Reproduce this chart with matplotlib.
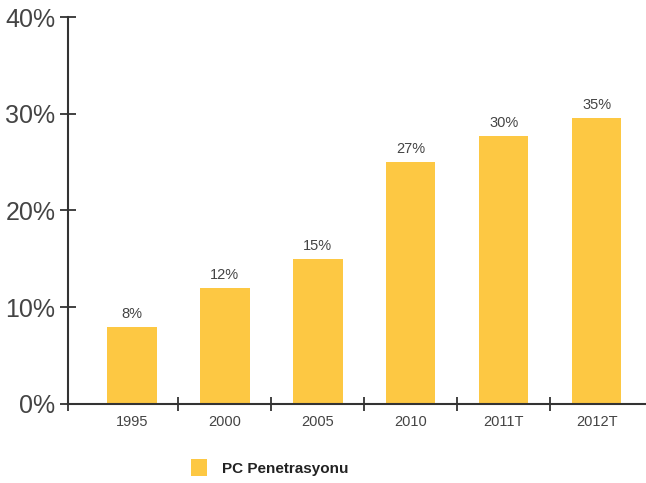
import matplotlib
matplotlib.use("Agg")
import matplotlib.pyplot as plt
from matplotlib.patches import Patch
import numpy as np

plt.rcParams["font.family"] = ["Liberation Sans", "DejaVu Sans"]

years = ["1995", "2000", "2005", "2010", "2011T", "2012T"]
heights = [8, 12, 15, 25, 27.7, 29.6]
labels = ["8%", "12%", "15%", "27%", "30%", "35%"]

bar_color = "#FDC843"
axis_color = "#333333"
text_color = "#444444"

fig = plt.figure(figsize=(6.46, 4.83), dpi=100)
ax = fig.add_axes([0.105, 0.1636, 0.895, 0.8012])

x = np.arange(len(years))
bars = ax.bar(x, heights, width=0.53, color=bar_color)
for b, lab in zip(bars, labels):
    ax.text(b.get_x() + b.get_width() / 2, b.get_height() + 0.6, lab,
            ha="center", va="bottom", fontsize=10.5, color=text_color)

ax.set_xlim(-0.69, 5.53)
ax.set_ylim(0, 40)
ax.set_yticks([0, 10, 20, 30, 40])
ax.set_yticklabels(["0%", "10%", "20%", "30%", "40%"], fontsize=18, color=text_color)
ax.set_xticks(x)
ax.set_xticklabels(years, fontsize=10.5, color=text_color)
ax.tick_params(axis="x", which="major", length=0, pad=8)
ax.set_xticks([-0.69] + list(np.arange(0.5, 5.0, 1.0)), minor=True)
ax.tick_params(axis="x", which="minor", direction="inout", length=10, width=1.3, color=axis_color)
ax.tick_params(axis="y", direction="inout", length=12, width=1.3, color=axis_color, pad=3)

for s in ["top", "right"]:
    ax.spines[s].set_visible(False)
for s in ["left", "bottom"]:
    ax.spines[s].set_color(axis_color)
    ax.spines[s].set_linewidth(1.5)

handle = Patch(facecolor=bar_color, label="PC Penetrasyonu")
leg = fig.legend(handles=[handle], loc="center left", bbox_to_anchor=(0.275, 0.032),
                 frameon=False, handlelength=1.0, handleheight=1.3, handletextpad=1.0,
                 prop={"weight": "bold", "size": 11})
for t in leg.get_texts():
    t.set_color("#222222")

fig.savefig("out.png", dpi=100)
